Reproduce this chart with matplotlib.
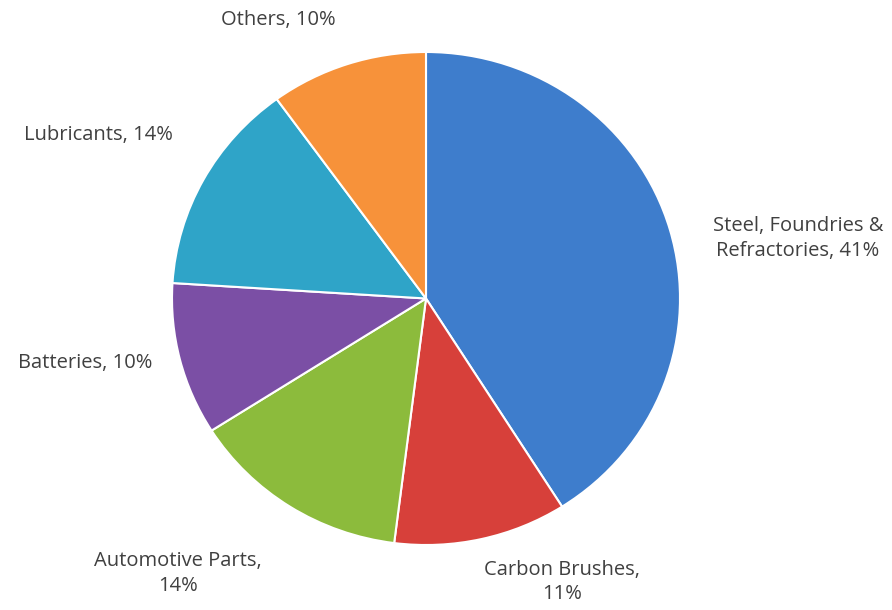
import matplotlib
matplotlib.use("agg")
import matplotlib.pyplot as plt

categories = ["Steel, Foundries &\nRefractories", "Carbon Brushes,\n", "Automotive Parts,\n",
              "Batteries", "Lubricants", "Others"]
shares = [41, 11, 14, 10, 14, 10]
colors = ["#3E7DCC", "#D7403A", "#8CBB3C", "#7B4FA5", "#2FA4C8", "#F7923A"]

# label centres in axes data units (pie radius = 1)
label_pos = [(1.465, 0.243), (0.535, -1.15), (-0.976, -1.116),
             (-1.343, -0.26), (-1.291, 0.665), (-0.583, 1.128)]

fig = plt.figure(figsize=(8.92, 6.10), dpi=100)
ax = fig.add_axes([172 / 892, 1 - 545 / 610, 508 / 892, 493 / 610])

ax.pie(shares, colors=colors, startangle=90, counterclock=False,
       wedgeprops=dict(edgecolor="white", linewidth=1.5))
ax.set_aspect("auto")
ax.set_xlim(-1, 1)
ax.set_ylim(-1, 1)

for name, val, (x, y) in zip(categories, shares, label_pos):
    if name.endswith("\n"):
        txt = f"{name}{val}%"
    else:
        txt = f"{name}, {val}%"
    ax.text(x, y, txt, ha="center", va="center", fontsize=14.5, color="#404040",
            family="Open Sans", linespacing=1.3, clip_on=False)

plt.savefig("out.png", facecolor="w")
